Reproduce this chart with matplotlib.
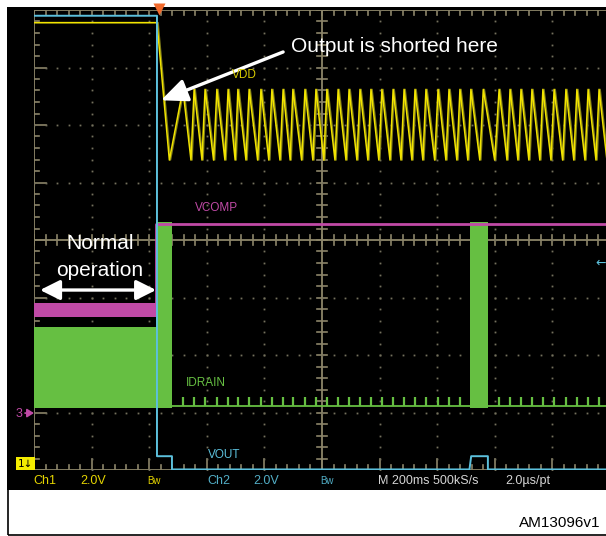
import numpy as np
import matplotlib
matplotlib.use('Agg')
import matplotlib.pyplot as plt
from matplotlib.patches import Rectangle

# ---------------- data (time in ms, levels in screen divisions) ----------------
t_short = 427            # output is shorted
t_trip = 479             # protection trips
burst_ms = [1514, 1576]  # restart attempt

vout_t = [0, 427, 427, 479, 479, 1512, 1518, 1576, 1576, 2000]
vout_v = [7.90, 7.90, 0.24, 0.24, 0.01, 0.01, 0.24, 0.24, 0.01, 0.01]

vdd_normal = 7.78
vdd_peak = 6.62
vdd_trough = 5.39
vdd_first_trough_ms = 470
vdd_peaks_ms = [517, 556, 594, 635, 674, 708, 747, 788, 826, 865, 899, 941,
                979, 1017, 1056, 1094, 1132, 1170, 1208, 1247, 1285, 1323,
                1361, 1403, 1441, 1479, 1517, 1560, 1615, 1653, 1691, 1729,
                1767, 1806, 1847, 1885, 1924, 1962, 2000]

idrain_spikes_ms = [517, 556, 594, 635, 674, 708, 747, 788, 826, 865, 899, 941,
                    979, 1017, 1056, 1094, 1132, 1170, 1208, 1247, 1285, 1323,
                    1361, 1403, 1441, 1479, 1615, 1653, 1691, 1729, 1767, 1806,
                    1847, 1885, 1924, 1962]
idrain_base = 1.11
idrain_spike_top = 1.27
idrain_band = [1.08, 2.49]
idrain_block = [1.08, 4.31]

vcomp_band = [2.66, 2.90]
vcomp_after = 4.28

# ---------------- figure ----------------
W, H = 606, 536
def fx(x): return x / W
def fy(y): return 1 - y / H

fig = plt.figure(figsize=(W / 100, H / 100), dpi=100)
fig.patch.set_facecolor('white')
fig.patches.append(Rectangle((fx(7), fy(490)), 1, (490 - 7) / H, transform=fig.transFigure,
                             facecolor='black', edgecolor='none', zorder=-2))
fig.patches.append(Rectangle((fx(7.5), fy(535)), 1, (535 - 7.5) / H, transform=fig.transFigure,
                             facecolor='none', edgecolor='black', lw=1.2, zorder=-1))

ax = fig.add_axes([34 / W, 1 - 470 / H, 576 / W, 460 / H])
ax.set_xlim(0, 2000)
ax.set_ylim(0, 8)
ax.set_axis_off()

# ---------------- graticule ----------------
gc = '#8c8569'
dc = '#74705d'
px_x = 2000 / 576.0   # ms per pixel
px_y = 8 / 460.0      # div per pixel
xminor = np.arange(0, 2001, 40)
yminor = np.arange(0, 8.001, 0.2)
for xv in [0, 1000]:
    ax.plot([xv, xv], [0, 8], color=gc, lw=1.3, zorder=1)
for yv in [0, 4, 8]:
    ax.plot([0, 2000], [yv, yv], color=gc, lw=1.3, zorder=1)
for xv in xminor:
    major = abs(xv / 200 - round(xv / 200)) < 1e-6
    ax.plot([xv, xv], [8, 8 - 5 * px_y], color=gc, lw=1.2, zorder=1)
    ax.plot([xv, xv], [0, (11 if major else 5) * px_y], color=gc, lw=1.2, zorder=1)
    ax.plot([xv, xv], [4 - 5 * px_y, 4 + 5 * px_y], color=gc, lw=1.2, zorder=1)
for yv in yminor:
    major = abs(yv - round(yv)) < 1e-6
    ax.plot([0, (12 if major else 5) * px_x], [yv, yv], color=gc, lw=1.2, zorder=1)
    ax.plot([1000 - 5 * px_x, 1000 + 5 * px_x], [yv, yv], color=gc, lw=1.2, zorder=1)
for xv in range(200, 2000, 200):
    if xv == 1000:
        continue
    ax.plot(np.full_like(yminor, xv), yminor, ls='none', marker='s', ms=1.3,
            mec='none', mfc=dc, zorder=1)
for yv in range(1, 8):
    if yv == 4:
        continue
    ax.plot(xminor, np.full_like(xminor, yv, dtype=float), ls='none', marker='s', ms=1.3,
            mec='none', mfc=dc, zorder=1)

# ---------------- traces ----------------
green = '#66bf42'
magenta = '#c04aa6'
yellow = '#f2e400'
olive = '#7e7c1a'
cyan = '#5cc0dc'

# IDRAIN
ax.fill_between([0, t_short], idrain_band[0], idrain_band[1], color=green, lw=0, zorder=2)
ax.fill_between([t_short, t_trip], idrain_block[0], idrain_block[1], color=green, lw=0, zorder=2)
ax.fill_between(burst_ms, idrain_block[0], idrain_block[1], color=green, lw=0, zorder=2)
ax.plot([t_trip, burst_ms[0]], [idrain_base, idrain_base], color=green, lw=1.3, zorder=2)
ax.plot([burst_ms[1], 2000], [idrain_base, idrain_base], color=green, lw=1.3, zorder=2)
ax.vlines(idrain_spikes_ms, idrain_base, idrain_spike_top, color=green, lw=1.6, zorder=2)

# VCOMP
ax.fill_between([0, t_short - 2], vcomp_band[0], vcomp_band[1], color=magenta, lw=0, zorder=3)
ax.plot([t_short - 2, t_short - 2, 2000], [vcomp_band[1], vcomp_after, vcomp_after],
        color=magenta, lw=2.0, zorder=3)

# VDD : fast rise to each peak, slower discharge to the next trough
vt = [0, t_short, vdd_first_trough_ms]
vv = [vdd_normal, vdd_normal, vdd_trough]
for k, p in enumerate(vdd_peaks_ms):
    vt.append(p)
    vv.append(vdd_peak)
    if k + 1 < len(vdd_peaks_ms):
        nxt = vdd_peaks_ms[k + 1]
        vt.append(p + 0.72 * (nxt - p))
        vv.append(vdd_trough)
vt = np.array(vt, dtype=float)
vv = np.array(vv)
ax.plot(vt + 4, vv, color=olive, lw=1.0, zorder=4)
ax.plot(vt, vv, color=yellow, lw=1.1, zorder=4)

# VOUT
ax.plot(vout_t, vout_v, color=cyan, lw=1.4, zorder=5)

# trace labels
lab = ['Liberation Sans', 'DejaVu Sans']
fig.text(fx(232), fy(75), 'VDD', color='#d8cc00', fontsize=8.5, family=lab, va='center')
fig.text(fx(195), fy(208), 'VCOMP', color=magenta, fontsize=8.5, family=lab, va='center')
fig.text(fx(186), fy(383), 'IDRAIN', color=green, fontsize=8.5, family=lab, va='center')
fig.text(fx(208), fy(455), 'VOUT', color=cyan, fontsize=8.5, family=lab, va='center')

# trigger marker and channel markers
ax.plot([t_short + 6], [8.02], marker='v', ms=8, color='#f26a2c', mec='none',
        clip_on=False, zorder=8)
fig.text(fx(25.5), fy(463.5), '1\u2193', color='black', fontsize=7.5, family=['DejaVu Sans'],
         ha='center', va='center',
         bbox=dict(boxstyle='square,pad=0.15', facecolor='#f4ec00', edgecolor='none'))
fig.text(fx(19.5), fy(414), '3', color=magenta, fontsize=9, family=lab, ha='center', va='center')
ax.annotate('', xy=(0, 0.99), xytext=(-9 * px_x, 0.99), annotation_clip=False,
            arrowprops=dict(arrowstyle='-|>,head_length=0.4,head_width=0.25', color=magenta,
                            lw=1.2, shrinkA=0, shrinkB=0))
fig.text(fx(601), fy(263), '\u2190', color=cyan, fontsize=9, family=['DejaVu Sans'],
         ha='center', va='center')

# status bar
yl = '#e4d400'
cl = '#52aec6'
sy = fy(481)
fig.text(fx(33), sy, 'Ch1', color=yl, fontsize=9, family=lab, va='center')
fig.text(fx(80), sy, '2.0V', color=yl, fontsize=9, family=lab, va='center')
fig.text(fx(147), sy, 'Bw', color=yl, fontsize=7, family=lab, va='center')
fig.text(fx(207), sy, 'Ch2', color=cl, fontsize=9, family=lab, va='center')
fig.text(fx(253), sy, '2.0V', color=cl, fontsize=9, family=lab, va='center')
fig.text(fx(320), sy, 'Bw', color=cl, fontsize=7, family=lab, va='center')
fig.text(fx(378), sy, 'M 200ms 500kS/s', color='#d4d4d4', fontsize=9, family=lab, va='center')
fig.text(fx(505), sy, '2.0\u00b5s/pt', color='#d4d4d4', fontsize=9, family=lab, va='center')

fig.text(fx(600), fy(523), 'AM13096v1', color='black', fontsize=11, family=lab,
         ha='right', va='center')

# annotations
fig.text(fx(291), fy(47), 'Output is shorted here', color='white', fontsize=15, family=lab,
         ha='left', va='center')
ax.annotate('', xy=(441, 6.43), xytext=(865, 7.27),
            arrowprops=dict(arrowstyle='-|>,head_length=0.8,head_width=0.35', color='white',
                            lw=2.4, mutation_scale=20, shrinkA=0, shrinkB=0), zorder=9)
fig.text(fx(100), fy(243), 'Normal', color='white', fontsize=15, family=lab, ha='center', va='center')
fig.text(fx(100), fy(271), 'operation', color='white', fontsize=15, family=lab, ha='center', va='center')
ax.annotate('', xy=(21, 3.13), xytext=(424, 3.13),
            arrowprops=dict(arrowstyle='<|-|>,head_length=0.6,head_width=0.3', color='white',
                            lw=2.4, mutation_scale=20, shrinkA=0, shrinkB=0), zorder=9)

fig.savefig('out.png', dpi=100, facecolor='white')
